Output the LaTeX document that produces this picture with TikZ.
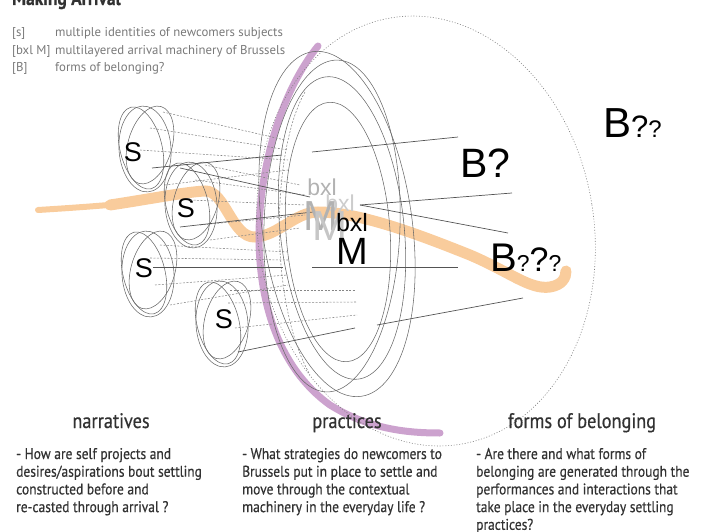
\documentclass[tikz,border=0pt]{standalone}
\usepackage{fontspec}
\setmainfont{Liberation Sans}
\newfontfamily\handfont[FakeStretch=0.87,FakeBold=0.5]{PT Sans}
\newfontfamily\keyfont{PT Sans}
\definecolor{peach}{RGB}{249,204,156}
\definecolor{lilac}{RGB}{199,152,201}
\definecolor{ink}{RGB}{50,50,50}
\definecolor{wire}{RGB}{105,105,105}

\begin{document}
\begin{tikzpicture}[x=1pt,y=-1pt,
  ring/.style={draw=wire, line width=0.55pt},
  ray/.style={draw=gray!95, line width=0.55pt, dash pattern=on 2pt off 1.5pt},
  link/.style={draw=wire!80!black, line width=0.7pt},
  subj/.style={font=\fontsize{27}{27}\selectfont, inner sep=0},
  hand/.style={font=\handfont\fontsize{15.5}{17}\selectfont, text=ink, inner sep=0, anchor=base west},
  head/.style={font=\handfont\fontsize{21}{21}\selectfont, text=ink, inner sep=0, anchor=base},
  legend/.style={font=\keyfont\fontsize{12.8}{12.8}\selectfont, text=gray!95!black, inner sep=0, anchor=base west}]
\useasboundingbox (0,0) rectangle (704,532);

% title, cut by the top edge
\node[font=\handfont\bfseries\fontsize{20}{20}\selectfont, text=ink, anchor=base west, inner sep=0] (title) at (12,5) {Making Arrival};

% legend
\foreach \k/\tag/\txt in {1/{[s]}/multiple identities of newcomers subjects,
                          2/{[bxl M]}/multilayered arrival machinery of Brussels,
                          3/{[B]}/forms of belonging?}{
  \node[legend] (tag\k) at (12,19.5+17.5*\k) {\tag};
  \node[legend] (key\k) at (55,19.5+17.5*\k) {\txt};
}

% the orange thread
\draw[peach, line width=6pt, line cap=round] (38,210) .. controls (70,208) and (100,206) .. (130,203);
\draw[peach, line width=11pt, line cap=round] (110,205) .. controls (150,199) and (185,192) .. (205,191)
  .. controls (225,190) and (232,238) .. (255,237) .. controls (278,236) and (295,212) .. (318,212)
  .. controls (360,212) and (420,235) .. (470,255) .. controls (510,272) and (530,290) .. (550,287)
  .. controls (562,285) and (566,278) .. (566,271);

% purple arc
\draw[lilac, line width=7pt, line cap=round, opacity=.9] (318,46) .. controls (250,130) and (225,330) .. (330,405)
  .. controls (370,430) and (410,433) .. (440,433);

% big dotted field of belonging
\draw[gray, line width=0.6pt, dash pattern=on 1pt off 1.8pt, shift={(426,231)}, rotate=9] (0,0) ellipse [x radius=168, y radius=216];

% layers of the machinery
\foreach \cx/\cy/\rx/\ry/\rot in {337/224/75/174/8, 342/228/62/152/6, 338/232/52/130/4, 332/226/68/166/-2}{
  \draw[ring, shift={(\cx,\cy)}, rotate=\rot] (0,0) ellipse [x radius=\rx, y radius=\ry];
}
\draw[ray] (305,92) .. controls (272,150) and (268,300) .. (310,375);

% subjects
\foreach \nm/\cx/\cy/\sx/\sy in {s1/145/147/133/152, s2/191/203/186/208, s3/148/272/144/268, s4/222/322/224/319}{
  \draw[ring, shift={(\cx-4,\cy+1)}, rotate=14] (0,0) ellipse [x radius=21, y radius=42];
  \draw[ring, shift={(\cx+5,\cy-2)}, rotate=-16] (0,0) ellipse [x radius=22, y radius=40];
  \draw[ring, shift={(\cx,\cy+2)}, rotate=4] (0,0) ellipse [x radius=26, y radius=43];
  \node[subj] (\nm) at (\sx,\sy) {S};
}

% dashed rays towards the machinery
\foreach \ax/\ay/\bx/\by in {163/112/285/140, 150/128/288/150, 140/150/288/160, 165/185/288/170,
    205/165/300/185, 195/180/305/195, 190/200/305/205, 200/225/305/215, 210/240/300/228,
    160/245/288/252, 150/258/288/260, 155/285/288/275, 170/305/288/285,
    230/290/355/290, 228/303/357/302, 235/328/357/315}{
  \draw[ray] (\ax,\ay) -- (\bx,\by);
}

% solid links
\foreach \ax/\ay/\bx/\by in {152/168/282/155, 312/152/458/137, 180/168/310/197, 180/227/313/212,
    153/267/283/267, 312/267/458/267, 238/352/355/328, 377/325/523/298,
    360/205/512/193, 360/205/508/233}{
  \draw[link] (\ax,\ay) -- (\bx,\by);
}

% machinery labels
\node[font=\fontsize{23}{23}\selectfont, text=gray!60, inner sep=0] (bxla) at (322,187) {bxl};
\node[font=\fontsize{23}{23}\selectfont, text=gray!40, inner sep=0] (bxlb) at (340,203) {bxl};
\node[font=\fontsize{42}{42}\selectfont, text=gray!60, inner sep=0] (ma) at (321,216) {M};
\node[font=\fontsize{42}{42}\selectfont, text=gray!45, inner sep=0] (mb) at (330,226) {M};
\node[font=\fontsize{25}{25}\selectfont, inner sep=0] (bxlc) at (352,223) {bxl};
\node[font=\fontsize{38}{38}\selectfont, inner sep=0] (mc) at (352,251) {M};

% forms of belonging
\node[font=\fontsize{41}{41}\selectfont, anchor=base west, inner sep=0] (b1) at (460,178) {B?};
\node[font=\fontsize{42}{42}\selectfont, anchor=base west, inner sep=0] (b2) at (603,138)
  {B\fontsize{31}{31}\selectfont?\fontsize{24}{24}\selectfont?};
\node[font=\fontsize{40}{40}\selectfont, anchor=base west, inner sep=0] (b3) at (490,271)
  {B\fontsize{23}{23}\selectfont?\fontsize{34}{34}\selectfont?\fontsize{23}{23}\selectfont?};

% three columns
\node[head] (narr) at (111,428) {narratives};
\node[head] (prac) at (347,428) {practices};
\node[head] (form) at (582,428) {forms of belonging};
\foreach \txt [count=\k] in {- How are self projects and, desires/aspirations bout settling,
    constructed before and, re-casted through arrival ?}{
  \node[hand] (narr\k) at (16,441.3+17.7*\k) {\txt};
}
\foreach \txt [count=\k] in {- What strategies do newcomers to, Brussels put in place to settle and,
    move through the contextual, machinery in the everyday life ?}{
  \node[hand] (prac\k) at (242,441.3+17.7*\k) {\txt};
}
\foreach \txt [count=\k] in {- Are there and what forms of, belonging are generated through the,
    performances and interactions that, take place in the everyday settling, practices?}{
  \node[hand] (form\k) at (476,441.3+17.7*\k) {\txt};
}
\end{tikzpicture}
\end{document}
